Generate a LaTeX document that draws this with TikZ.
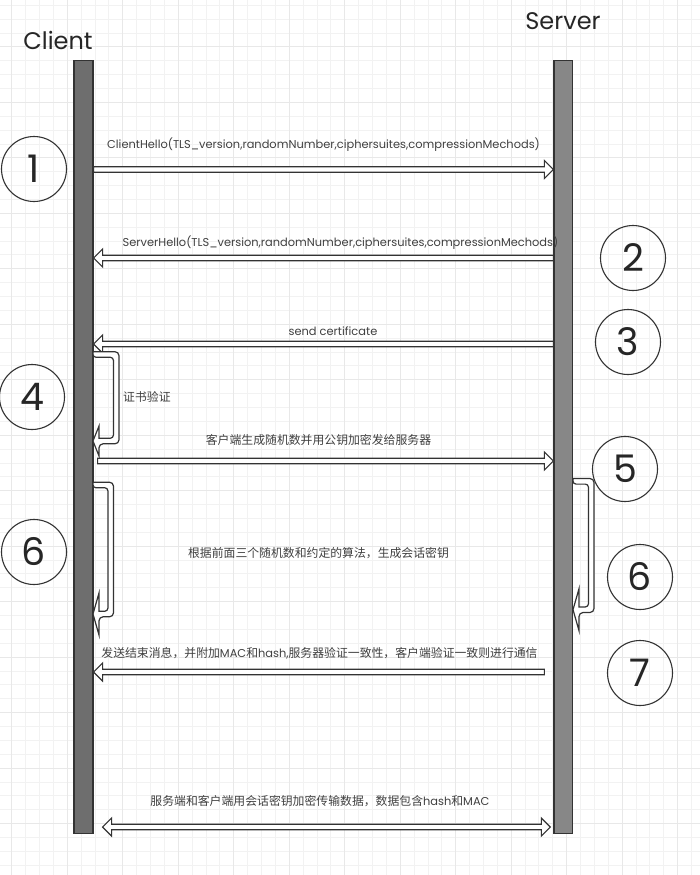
\documentclass[tikz,border=0pt]{standalone}
\usepackage{fontspec}
\setmainfont{Poppins}
\newfontfamily\cjk[Scale=1.04]{Noto Sans CJK SC}
\usetikzlibrary{calc}

\tikzset{
  lifeline/.style={draw=black!80, line width=1.2pt, minimum width=19, minimum height=773, inner sep=0pt},
  flex/.style={draw=black!80, fill=white, line width=1.2pt, line join=miter},
  numcircle/.style={circle, draw=black!80, line width=1.1pt, minimum size=65, inner sep=0pt,
    font=\fontsize{38}{38}\selectfont, text=black!85},
  msg/.style={font=\fontsize{11.4}{13}\selectfont, text=black!75, inner sep=0pt},
  title/.style={font=\fontsize{24}{24}\selectfont, text=black!85},
  gridminor/.style={draw=black!5, line width=0.8pt},
  gridmajor/.style={draw=black!9, line width=0.8pt}
}

% flat arrow with a hollow head, horizontal
\newcommand{\flexarrow}[2]{%
  \draw[flex] let \p1=#1, \p2=#2, \n1={ifthenelse(\x2>\x1,1,-1)} in
    (\x1,\y1+2.8pt) -- (\x2-\n1*9pt,\y1+2.8pt) -- (\x2-\n1*9pt,\y1+9pt) -- (\x2,\y1)
    -- (\x2-\n1*9pt,\y1-9pt) -- (\x2-\n1*9pt,\y1-2.8pt) -- (\x1,\y1-2.8pt) -- cycle;}
% same, with a head at both ends
\newcommand{\flexboth}[2]{%
  \draw[flex] let \p1=#1, \p2=#2 in
    (\x1,\y1) -- (\x1+9pt,\y1+9pt) -- (\x1+9pt,\y1+2.8pt) -- (\x2-9pt,\y1+2.8pt)
    -- (\x2-9pt,\y1+9pt) -- (\x2,\y1) -- (\x2-9pt,\y1-9pt) -- (\x2-9pt,\y1-2.8pt)
    -- (\x1+9pt,\y1-2.8pt) -- (\x1+9pt,\y1-9pt) -- cycle;}
% loop back to the same lifeline: x0, ytop, xout, ybottom, head half height
\newcommand{\flexloop}[5]{%
  \draw[flex] (#1,#2-2.8) [rounded corners=4] -- (#3,#2-2.8) -- (#3,#4+2.8)
    -- (#1+6,#4+2.8) [sharp corners] -- (#1+6,#4+#5) -- (#1,#4) -- (#1+6,#4-#5)
    -- (#1+6,#4-2.8) [rounded corners=3] -- (#3-5.6,#4-2.8) -- (#3-5.6,#2+2.8)
    -- (#1,#2+2.8) [sharp corners] -- cycle;}

\begin{document}
\begin{tikzpicture}[x=1pt, y=-1pt]
  \useasboundingbox (0,0) rectangle (700,875);

  % Raster
  \fill[white] (0,0) rectangle (700,875);
  \foreach \i in {0,...,50}
    \draw[gridminor] ({11.8+13.87*\i},0) -- ({11.8+13.87*\i},875);
  \foreach \j in {0,...,62}
    \draw[gridminor] (0,{5.2+13.87*\j}) -- (700,{5.2+13.87*\j});
  \foreach \i in {0,...,12}
    \draw[gridmajor] ({11.8+55.48*\i},0) -- ({11.8+55.48*\i},875);
  \foreach \j in {0,...,15}
    \draw[gridmajor] (0,{46.8+55.48*\j}) -- (700,{46.8+55.48*\j});

  % Lebenslinien
  \node[title] (clientname) at (58,40) {Client};
  \node[title] (servername) at (563,21) {Server};
  \node[lifeline, fill=black!57] (client) at (83.5,447.3) {};
  \node[lifeline, fill=black!47, minimum width=18.7] (server) at (563.3,447.3) {};

  % Nachrichten
  \flexarrow{(client.east |- 0,169.5)}{(server.west |- 0,169.5)}
  \node[msg] (hello) at (323.5,145) {ClientHello(TLS\_version,randomNumber,ciphersuites,compressionMechods)};

  \flexarrow{(server.west |- 0,258)}{(client.east |- 0,258)}
  \node[msg] (srvhello) at (340.5,243) {ServerHello(TLS\_version,randomNumber,ciphersuites,compressionMechods)};

  \flexarrow{(server.west |- 0,344)}{(client.east |- 0,344)}
  \node[msg] (cert) at (333,331) {send certificate};

  \flexloop{93}{354.5}{119}{441}{15}
  \node[msg, anchor=west] (check) at (123,397) {\cjk 证书验证};

  \flexarrow{($(client.east |- 0,461)+(4,0)$)}{(server.west |- 0,461)}
  \node[msg] (keyx) at (318.5,440) {\cjk 客户端生成随机数并用公钥加密发给服务器};

  \flexloop{93}{485}{113.5}{614}{21}
  \flexloop{573}{481.3}{594}{609.7}{21}
  \node[msg] (session) at (318.5,553) {\cjk 根据前面三个随机数和约定的算法，生成会话密钥};

  \flexarrow{($(server.west |- 0,672)+(-9,0)$)}{(client.east |- 0,672)}
  \node[msg] (finish) at (319.5,653) {{\cjk 发送结束消息，并附加}MAC{\cjk 和}hash,{\cjk 服务器验证一致性，客户端验证一致则进行通信}};

  \flexboth{($(client.east |- 0,827)+(9,0)$)}{($(server.west |- 0,827)+(-3,0)$)}
  \node[msg] (data) at (320,801) {{\cjk 服务端和客户端用会话密钥加密传输数据，数据包含}hash{\cjk 和}MAC};

  % Schritte
  \node[numcircle] (n1) at (34,169) {1};
  \node[numcircle] (n2) at (633,258) {2};
  \node[numcircle] (n3) at (628,342) {3};
  \node[numcircle] (n4) at (32,397) {4};
  \node[numcircle] (n5) at (625,469) {5};
  \node[numcircle] (n6a) at (34,552) {6};
  \node[numcircle] (n6b) at (640,577) {6};
  \node[numcircle] (n7) at (640,673) {7};
\end{tikzpicture}
\end{document}
